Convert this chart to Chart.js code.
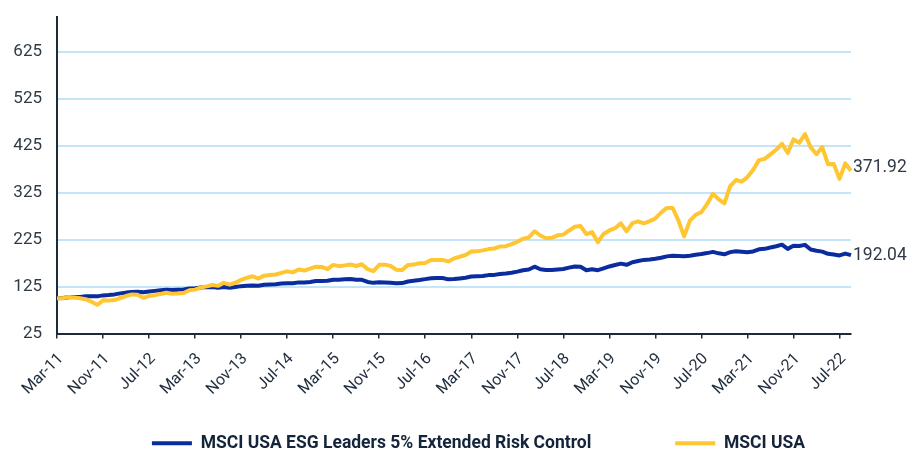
<!DOCTYPE html>
<html>
<head>
<meta charset="utf-8">
<script src="https://cdn.jsdelivr.net/npm/chart.js@4.4.1/dist/chart.umd.min.js"></script>
<style>
  html, body { margin: 0; padding: 0; background: #ffffff; }
  #wrap { width: 911px; height: 449px; }
</style>
</head>
<body>
<div id="wrap"><canvas id="c" width="911" height="449"></canvas></div>
<script>
// ---- data ----
const monthNames = ['Jan','Feb','Mar','Apr','May','Jun','Jul','Aug','Sep','Oct','Nov','Dec'];
const months = [];
for (let i = 0; i < 139; i++) {
  const m = (2 + i) % 12;
  const y = 11 + Math.floor((2 + i) / 12);
  months.push(monthNames[m] + '-' + String(y).padStart(2, '0'));
}

const esgLeaders = [
  100.0,100.6,102.1,102.8,103.1,104.2,104.6,104.2,106.3,107.0,
  108.4,110.6,112.2,113.5,113.9,112.8,114.6,115.9,117.0,118.1,
  117.6,118.2,118.8,120.9,121.5,123.0,124.2,123.9,122.6,124.0,
  122.8,124.3,126.0,126.8,127.4,126.9,128.8,129.3,130.0,131.4,
  132.3,132.1,134.0,133.8,135.0,136.8,137.2,137.6,139.8,139.8,
  140.5,141.0,139.5,139.5,135.0,133.0,134.5,134.0,133.0,132.0,
  132.5,136.0,137.5,139.0,141.0,143.0,143.5,143.5,140.5,141.0,
  142.5,144.0,146.5,147.0,147.5,149.5,150.0,152.0,153.0,154.5,
  157.0,160.0,161.5,167.5,162.0,160.5,160.5,161.5,162.5,165.5,
  168.0,167.5,160.0,162.0,160.0,164.0,168.0,171.0,174.0,171.5,
  177.0,179.5,182.0,183.0,184.5,186.5,189.5,191.0,190.5,190.0,
  191.0,193.0,194.5,196.5,199.0,196.0,194.0,198.5,200.5,199.5,
  198.5,200.0,204.5,205.5,208.5,211.0,214.5,205.5,212.0,211.5,
  214.0,204.0,201.5,199.6,195.0,193.5,191.5,195.5,192.04
];

const msciUsa = [
  100.0,100.1,103.1,101.8,100.1,98.2,92.7,86.2,95.7,95.3,
  96.3,100.7,104.9,108.4,107.7,101.1,105.3,106.8,109.1,111.9,
  109.9,110.4,111.3,117.1,118.6,123.1,125.5,128.3,126.6,133.1,
  129.1,133.2,139.3,143.5,147.1,142.1,148.4,149.7,150.9,154.3,
  157.5,155.4,161.5,159.2,163.2,167.5,167.0,162.1,171.3,168.6,
  170.3,172.3,169.0,172.6,162.1,158.0,171.4,171.8,169.0,160.7,
  160.3,171.2,171.9,174.8,175.3,181.8,181.9,181.9,178.7,185.1,
  188.7,192.4,199.9,200.2,202.3,205.0,206.3,210.6,211.1,215.5,
  220.6,227.2,229.8,243.1,234.0,228.1,229.1,234.4,235.9,244.8,
  252.6,254.1,236.8,241.4,219.6,237.3,244.8,249.5,259.8,243.1,
  260.2,264.1,259.7,264.6,270.4,282.9,292.9,292.9,266.0,232.0,
  265.7,278.2,283.8,301.4,323.0,310.9,302.7,339.1,352.3,348.9,
  358.6,374.4,394.7,397.5,407.0,416.9,429.6,409.9,438.9,431.7,
  450.4,421.9,407.3,422.6,386.0,386.7,354.8,387.7,371.92
];

const yTicks = [25, 125, 225, 325, 425, 525, 625];
const xTickEvery = 8;
const seriesNames = ['MSCI USA ESG Leaders 5% Extended Risk Control', 'MSCI USA'];

// ---- styles ----
const BLUE = '#0b2c9e';
const YELLOW = '#ffc631';
const AXIS = '#1c2b39';
const GRID = '#c4e5f7';
const TEXT = '#2f3a46';
const LEGEND_GAP = '                 ';
const LEGEND_SHIFT = 23;

const endLabels = {
  id: 'endLabels',
  afterDatasetsDraw(chart) {
    const ctx = chart.ctx;
    const dy = [0, -3];
    chart.data.datasets.forEach((ds, i) => {
      const meta = chart.getDatasetMeta(i);
      const pt = meta.data[meta.data.length - 1];
      const v = ds.data[ds.data.length - 1];
      ctx.save();
      ctx.font = '17.5px Roboto';
      ctx.fillStyle = TEXT;
      ctx.textAlign = 'left';
      ctx.textBaseline = 'middle';
      ctx.fillText(v.toFixed(2), pt.x + 2, pt.y + dy[i]);
      ctx.restore();
    });
  }
};

const legendShift = {
  id: 'legendShift',
  afterLayout(chart) {
    if (chart.legend) {
      chart.legend.left += LEGEND_SHIFT;
      chart.legend.right += LEGEND_SHIFT;
    }
  }
};

new Chart(document.getElementById('c'), {
  type: 'line',
  data: {
    labels: months,
    datasets: [
      { label: seriesNames[0], data: esgLeaders, borderColor: BLUE, backgroundColor: BLUE,
        borderWidth: 4, pointRadius: 0, tension: 0, borderJoinStyle: 'round', order: 1, yAxisID: 'y' },
      { label: seriesNames[1], data: msciUsa, borderColor: YELLOW, backgroundColor: YELLOW,
        borderWidth: 4, pointRadius: 0, tension: 0, borderJoinStyle: 'round', order: 0, yAxisID: 'y' }
    ]
  },
  options: {
    responsive: false,
    animation: false,
    devicePixelRatio: 1,
    layout: { padding: { left: 0, right: 0, top: 17, bottom: -13 } },
    plugins: {
      tooltip: { enabled: false },
      legend: {
        position: 'bottom',
        align: 'center',
        labels: {
          boxWidth: 40,
          boxHeight: 4,
          padding: 10,
          color: '#14243a',
          font: { family: 'Roboto', size: 17.5, weight: 'bold' },
          generateLabels(chart) {
            return chart.data.datasets.map((ds, i) => ({
              text: ds.label + (i === 0 ? LEGEND_GAP : ''),
              fillStyle: ds.borderColor,
              strokeStyle: ds.borderColor,
              lineWidth: 0,
              hidden: false,
              datasetIndex: i,
              fontColor: '#14243a'
            }));
          }
        }
      }
    },
    scales: {
      x: {
        type: 'category',
        offset: false,
        afterBuildTicks(scale) {
          scale.ticks = scale.ticks.filter(t => t.value % xTickEvery === 0);
        },
        afterFit(scale) { scale.height = 91; },
        ticks: {
          autoSkip: false,
          maxRotation: 45,
          minRotation: 45,
          padding: 11,
          labelOffset: 4,
          color: '#1f2d3d',
          font: { family: 'Roboto', size: 16 }
        },
        grid: { drawOnChartArea: false, drawTicks: true, tickLength: 5, color: AXIS, lineWidth: 1.5, offset: false },
        border: { display: true, color: AXIS, width: 2 }
      },
      y: {
        type: 'linear',
        position: 'left',
        min: 25,
        max: 700,
        afterBuildTicks(scale) {
          scale.ticks = yTicks.map(v => ({ value: v }));
        },
        afterFit(scale) {
          scale.width = 57;
          scale.paddingTop = 0;
          scale.paddingBottom = 0;
        },
        ticks: {
          padding: 15,
          color: TEXT,
          font: { family: 'Roboto', size: 17 }
        },
        grid: {
          drawTicks: false,
          lineWidth: 2,
          color: ctx => (ctx.tick && ctx.tick.value === 25) ? 'rgba(0,0,0,0)' : GRID
        },
        border: { display: true, color: AXIS, width: 2 }
      },
      yRight: {
        type: 'linear',
        position: 'right',
        display: true,
        grid: { display: false, drawTicks: false },
        border: { display: false },
        ticks: { display: false },
        afterFit(scale) { scale.width = 60; }
      }
    }
  },
  plugins: [endLabels, legendShift]
});
</script>
</body>
</html>
